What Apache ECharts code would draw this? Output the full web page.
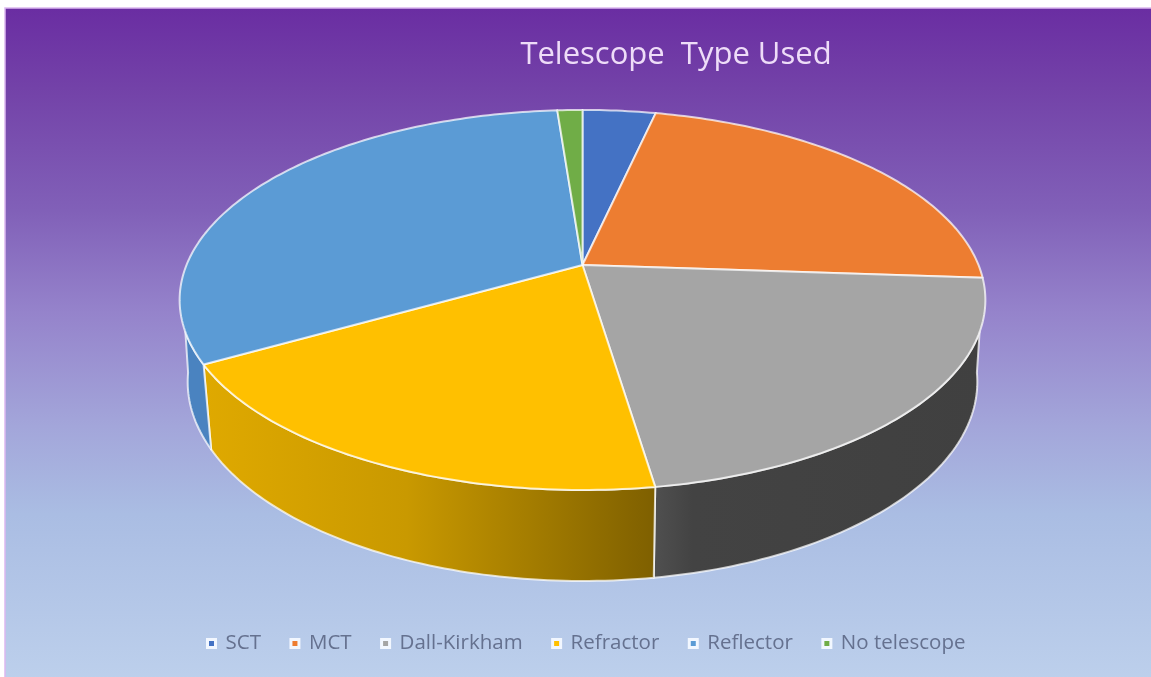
<!DOCTYPE html>
<html><head><meta charset="utf-8">
<style>html,body{margin:0;padding:0;background:#fff}#c{width:1151px;height:677px}</style>
<script src="https://cdn.jsdelivr.net/npm/echarts@6/dist/echarts.min.js"></script>
</head><body><div id="c"></div>
<script>
const categories = ['SCT','MCT','Dall-Kirkham','Refractor','Reflector','No telescope'];
const values = [3.5,22.6,21.5,19.2,32.0,1.2];
const topColors = ['#4472c4','#ed7d31','#a5a5a5','#ffc000','#5b9bd5','#70ad47'];

const total = values.reduce((a,b)=>a+b,0);
const K=0.184,A=396,B=183.6,CX=582.5,CY=265;
function rim(deg,bottom){
  const t=deg*Math.PI/180,u=Math.sin(t),v=-Math.cos(t),d=1-K*v;
  const sx=bottom?0.98:1,sy=bottom?1.048:1,dy=bottom?80.2:0;
  return [CX+sx*A*u/d,CY+dy+sy*B*v/d];
}
function arc(a,b,bottom){
  const n=Math.max(2,Math.ceil(Math.abs(b-a)));const p=[];
  for(let i=0;i<=n;i++)p.push(rim(a+(b-a)*i/n,bottom));
  return p;
}
function sideFill(i){
  if(i===3)return {type:'linear',global:true,x:205,y:0,x2:653,y2:0,colorStops:[
    {offset:0,color:'#dfa900'},{offset:.45,color:'#c99900'},{offset:.8,color:'#9a7500'},{offset:1,color:'#7f6000'}]};
  if(i===2)return {type:'linear',global:true,x:653,y:0,x2:985,y2:0,colorStops:[
    {offset:0,color:'#505050'},{offset:.12,color:'#434343'},{offset:1,color:'#404040'}]};
  return '#4a83c0';
}
const edge='rgba(255,255,255,0.72)';
let acc=0;
const series=categories.map((name,i)=>{
  const start=acc/total*360;acc+=values[i];const end=acc/total*360;
  return {type:'custom',name,coordinateSystem:'none',animation:false,silent:true,
    itemStyle:{color:topColors[i]},
    data:[{name,value:values[i]}],
    renderItem(){
      const children=[];
      const a=Math.max(start,110),b=Math.min(end,250);
      if(b>a){
        const a2=Math.max(start,98),b2=Math.min(end,262);
        const pts=arc(a,b,false).concat(arc(b2,a2,true));
        children.push({type:'polygon',shape:{points:pts},
          style:{fill:sideFill(i),stroke:edge,lineWidth:2,lineJoin:'round'}});
      }
      const pts=[[CX,CY]].concat(arc(start,end,false));
      children.push({type:'polygon',shape:{points:pts},
        style:{fill:topColors[i],stroke:edge,lineWidth:2,lineJoin:'round'}});
      return {type:'group',children};
    }};
});
const chart=echarts.init(document.getElementById('c'),null,{renderer:'canvas'});
chart.setOption({
  animation:false,
  backgroundColor:'#fff',
  graphic:[{type:'rect',z:-10,shape:{x:5,y:8,width:1150,height:675},
    style:{stroke:'#dcb8f0',lineWidth:1.5,fill:{type:'linear',x:0,y:0,x2:0,y2:1,colorStops:[
      {offset:0,color:'#6a2da2'},{offset:.12,color:'#7342a8'},{offset:.3,color:'#8160b8'},{offset:.45,color:'#9583cb'},
      {offset:.62,color:'#a3a6da'},{offset:.75,color:'#aabde3'},{offset:1,color:'#bdd0ec'}]}}}],
  title:{text:'Telescope  Type Used',left:671,top:35,textAlign:'center',
    textStyle:{color:'#eedcf8',fontFamily:'Open Sans',fontWeight:'normal',fontSize:31}},
  legend:{data:categories,bottom:18,left:201,icon:'rect',itemWidth:8,itemHeight:8,itemGap:28.5,
    itemStyle:{borderColor:'#f2f7ff',borderWidth:3},
    textStyle:{color:'#65718f',fontFamily:'Open Sans',fontSize:20.5,padding:[0,0,0,5]}},
  series
});
</script></body></html>
